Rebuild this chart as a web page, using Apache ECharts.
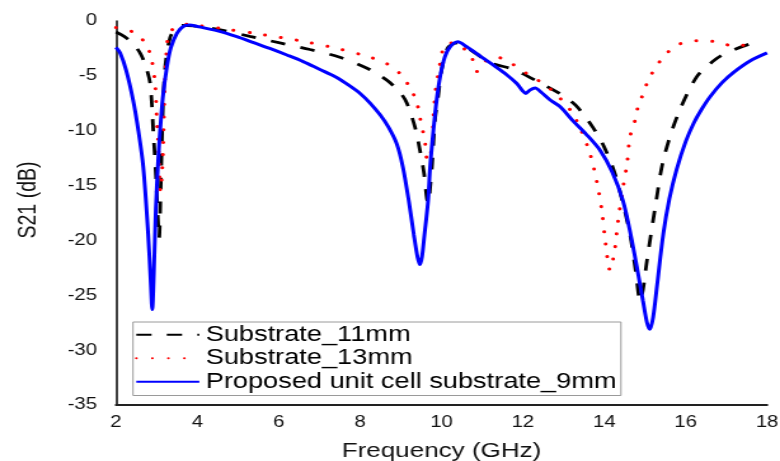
<!DOCTYPE html>
<html><head><meta charset="utf-8">
<script src="https://cdn.jsdelivr.net/npm/echarts@6/dist/echarts.min.js"></script>
<style>
html,body{margin:0;padding:0;overflow:hidden;background:#fff;}
#wrap{width:780px;height:461px;overflow:hidden;}
#c{width:614px;height:461px;transform:scaleX(1.270358);transform-origin:0 0;}
</style></head><body><div id="wrap"><div id="c"></div></div>
<script>
// Tick settings
const xMin = 2, xMax = 18, xStep = 2;
const yMin = -35, yMax = 0, yStep = 5;
const xTitle = 'Frequency (GHz)';
const yTitle = 'S21 (dB)';
const names = ['Substrate_11mm', 'Substrate_13mm', 'Proposed unit cell substrate_9mm'];

// Substrate_11mm
const f11 = [2.0,2.2,2.4,2.59,2.72,2.84,2.92,2.98,3.03,3.06,3.1,3.16,3.22,3.33,3.45,3.62,3.9,4.56,5.29,6.03,6.77,7.5,8.17,8.5,8.73,9.0,9.15,9.35,9.47,9.57,9.64,9.68,9.72,9.77,9.84,9.92,10.0,10.16,10.4,10.7,11.2,11.77,12.1,12.4,12.9,13.3,13.72,14.0,14.26,14.45,14.63,14.78,14.88,14.95,15.05,15.25,15.45,15.78,16.27,16.77,17.2,17.66,17.8];
const v11 = [-1.0,-1.4,-2.0,-2.9,-4.0,-5.7,-10.3,-14,-18,-19.8,-15,-7.2,-3.8,-1.5,-0.8,-0.4,-0.45,-0.8,-1.4,-2.0,-2.6,-3.3,-4.3,-5.0,-5.6,-6.6,-7.5,-9.7,-11.8,-13.9,-16.2,-16.6,-15.2,-13,-9,-6.8,-4.5,-2.4,-2.0,-2.6,-3.8,-4.4,-5.0,-5.6,-6.6,-7.7,-9.7,-11.5,-13.9,-16.5,-19.4,-23,-25.5,-24.5,-21.8,-17,-12.7,-8.8,-5.1,-3.4,-2.6,-2.0,-1.9];

// Substrate_13mm
const f13 = [2.0,2.2,2.42,2.6,2.75,2.87,2.96,3.0,3.05,3.09,3.13,3.16,3.2,3.25,3.3,3.45,3.75,4.0,4.63,5.54,6.52,7.43,8.24,8.66,8.98,9.23,9.39,9.47,9.54,9.6,9.65,9.7,9.77,9.8,9.86,9.92,9.99,10.08,10.3,10.45,10.6,10.75,10.87,10.95,11.1,11.36,11.73,12.1,12.37,12.74,13.0,13.2,13.4,13.65,13.82,13.94,14.02,14.14,14.2,14.26,14.34,14.46,14.56,14.63,14.76,14.83,14.96,15.08,15.25,15.45,15.78,16.27,16.77,17.2,17.6,17.75];
const v13 = [-0.6,-0.8,-1.0,-1.5,-2.2,-3.4,-5.7,-8.8,-12,-15.5,-14,-11.5,-5.7,-2.4,-1.2,-0.6,-0.3,-0.4,-0.7,-1.2,-1.8,-2.5,-3.3,-3.9,-4.8,-6.1,-7.4,-8.8,-10,-11.2,-12.7,-12.6,-11.2,-8.8,-6.1,-4.8,-3.4,-2.2,-2.0,-2.2,-2.7,-3.4,-4.6,-4.4,-3.6,-3.3,-3.9,-4.8,-5.4,-6.4,-7.4,-8.3,-9.7,-12.1,-14.7,-17.3,-19.9,-22.7,-22,-20.8,-18.2,-15.2,-13,-10.6,-9.0,-7.8,-6.6,-5.4,-4.3,-3.3,-2.2,-1.8,-1.9,-2.3,-2.1,-2.0];

// Proposed unit cell substrate_9mm
const f9 = [2.0,2.1,2.25,2.42,2.55,2.67,2.79,2.85,2.89,2.93,2.98,3.04,3.08,3.15,3.25,3.35,3.5,3.65,3.8,4.0,4.5,4.97,5.4,5.78,6.2,6.6,7.0,7.4,7.7,8.0,8.25,8.5,8.7,8.9,9.05,9.2,9.32,9.41,9.47,9.52,9.58,9.67,9.72,9.8,9.88,9.97,10.08,10.2,10.4,10.6,10.95,11.3,11.6,11.85,12.0,12.07,12.17,12.3,12.45,12.67,12.91,13.23,13.55,13.9,14.2,14.46,14.65,14.8,14.95,15.05,15.12,15.2,15.3,15.45,15.6,15.78,16.0,16.2,16.4,16.6,16.9,17.17,17.6,18.0];
const v9 = [-2.4,-2.9,-4.5,-7.2,-10,-13.3,-19.4,-23.5,-26.3,-23,-17,-12.5,-10.2,-7,-4.2,-2.4,-1.1,-0.5,-0.37,-0.5,-0.9,-1.43,-2.0,-2.5,-3.1,-3.7,-4.4,-5.1,-5.8,-6.6,-7.5,-8.6,-9.7,-11.2,-13.3,-16.5,-19.5,-21.5,-22.2,-21.5,-19.5,-16.4,-13.3,-10,-7.2,-5,-3.3,-2.4,-1.9,-2.3,-3.2,-4.1,-4.9,-5.7,-6.4,-6.6,-6.3,-6.1,-6.5,-7.2,-7.8,-9.1,-10.3,-11.8,-13.8,-16.4,-19.5,-22.4,-25.5,-27.5,-28.1,-27,-24,-19.4,-16.2,-13.5,-11.0,-9.3,-8.0,-6.9,-5.6,-4.7,-3.6,-2.9];

const pair = (xs, ys) => xs.map((x, i) => [x, ys[i]]);
const FONT = '"Liberation Sans", Arial, Helvetica, sans-serif';

const chart = echarts.init(document.getElementById('c'), null, {renderer: 'canvas'});
chart.setOption({
  animation: false,
  backgroundColor: '#fff',
  grid: {left: 91.3, right: 10.2, top: 21, bottom: 56, containLabel: false, outerBoundsMode: 'none'},
  xAxis: {
    type: 'value', min: xMin, max: xMax, interval: xStep,
    name: xTitle, nameLocation: 'middle', nameGap: 36,
    nameTextStyle: {fontSize: 20.5, color: '#111', fontFamily: FONT},
    axisLine: {show: true, onZero: false, lineStyle: {color: '#222', width: 2}},
    axisTick: {show: false},
    splitLine: {show: false},
    axisLabel: {fontSize: 16, color: '#111', margin: 10, fontFamily: FONT}
  },
  yAxis: {
    type: 'value', min: yMin, max: yMax, interval: yStep,
    name: yTitle, nameLocation: 'middle', nameGap: 59,
    nameTextStyle: {fontSize: 19.5, color: '#111', fontFamily: FONT, padding: [0, 0, 0, 26]},
    axisLine: {show: true, onZero: false, lineStyle: {color: '#222', width: 1.7}},
    axisTick: {show: false},
    splitLine: {show: false},
    axisLabel: {fontSize: 16, color: '#111', margin: 15, fontFamily: FONT}
  },
  legend: {
    orient: 'vertical', left: 104.7, top: 322,
    itemWidth: 49.6, itemHeight: 14, itemGap: 0,
    padding: [1, 3.5, 2, 1.6],
    borderColor: '#9a9a9a', borderWidth: 1, backgroundColor: '#fff',
    itemStyle: {opacity: 0},
    textStyle: {fontSize: 21.4, lineHeight: 23.5, color: '#000', fontFamily: FONT},
    data: names
  },
  series: [
    {name: names[0], type: 'line', data: pair(f11, v11), showSymbol: false, symbol: 'none', smooth: 0.3,
     lineStyle: {color: '#000', width: 2.8, type: [12, 12]}, itemStyle: {color: '#000'}, z: 2},
    {name: names[1], type: 'line', data: pair(f13, v13), showSymbol: false, symbol: 'none', smooth: 0.3,
     lineStyle: {color: '#ff0000', width: 3, type: [0.1, 12.5], cap: 'round'}, itemStyle: {color: '#ff0000'}, z: 3},
    {name: names[2], type: 'line', data: pair(f9, v9), showSymbol: false, symbol: 'none', smooth: 0.3,
     lineStyle: {color: '#0000ff', width: 3}, itemStyle: {color: '#0000ff'}, z: 4}
  ]
});
</script></body></html>
